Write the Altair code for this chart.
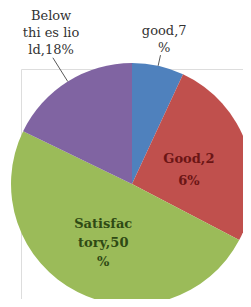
import altair as alt
import pandas as pd

categories = ["good", "Good", "Satisfactory", "Below thi es liold"]
values = [7, 26, 50, 18]
label_lines = ["good,7\n%", "Good,2\n6%", "Satisfac\ntory,50\n%", "Below\nthi es lio\nld,18%"]
colors = ["#4F81BD", "#C0504D", "#9BBB59", "#8064A2"]

df = pd.DataFrame({"category": categories, "value": values, "label": label_lines,
                   "idx": list(range(len(categories)))})

W, H = 222, 230
R = 121
CX, CY = W / 2, H / 2

arcs = alt.Chart(df).mark_arc(outerRadius=R).encode(
    theta=alt.Theta("value:Q", stack=True),
    order=alt.Order("idx:Q", sort="ascending"),
    color=alt.Color("category:N", scale=alt.Scale(domain=categories, range=colors), legend=None),
)

tb = (alt.Chart(df)
      .transform_joinaggregate(total="sum(value)")
      .transform_window(cum="sum(value)", sort=[alt.SortField("idx", order="ascending")], frame=[None, 0])
      .transform_calculate(mid="(datum.cum - datum.value/2)/datum.total*2*PI"))


def label(i, r, color, bold, lh, dx=0, dy=0):
    return tb.transform_filter(alt.datum.idx == i).mark_text(
        radius=r, dx=dx, dy=dy, font="DejaVu Serif", fontSize=13,
        fontWeight="bold" if bold else "normal", color=color, lineBreak="\n",
        lineHeight=lh, align="center", baseline="middle",
    ).encode(theta=alt.Theta("mid:Q", scale=None, stack=False), text="label:N")


def leader(i, r1, r2):
    return (tb.transform_filter(alt.datum.idx == i)
            .transform_calculate(
                x1=f"{CX} + {r1}*sin(datum.mid)", y1=f"{CY} - {r1}*cos(datum.mid)",
                x2=f"{CX} + {r2}*sin(datum.mid)", y2=f"{CY} - {r2}*cos(datum.mid)")
            .mark_rule(color="#595959", strokeWidth=1)
            .encode(x=alt.X("x1:Q", scale=None), y=alt.Y("y1:Q", scale=None),
                    x2="x2:Q", y2="y2:Q"))


chart = alt.layer(
    arcs,
    leader(0, R, 132),
    leader(3, R, 149),
    label(0, 149, "#333333", False, 17, dy=-8),
    label(1, 59, "#6b1515", True, 22, dx=1, dy=-6),
    label(2, 64, "#2f4a14", True, 19, dy=-17),
    label(3, 175, "#333333", False, 17, dx=12, dy=-20),
).properties(
    width=W, height=H,
    autosize=alt.AutoSizeParams(type="none"),
    padding={"left": 13, "top": 61, "right": 0, "bottom": 0},
).configure_view(stroke=None).configure(background="white")

chart.save("out.html", embed_options={"renderer": "svg", "actions": False})
